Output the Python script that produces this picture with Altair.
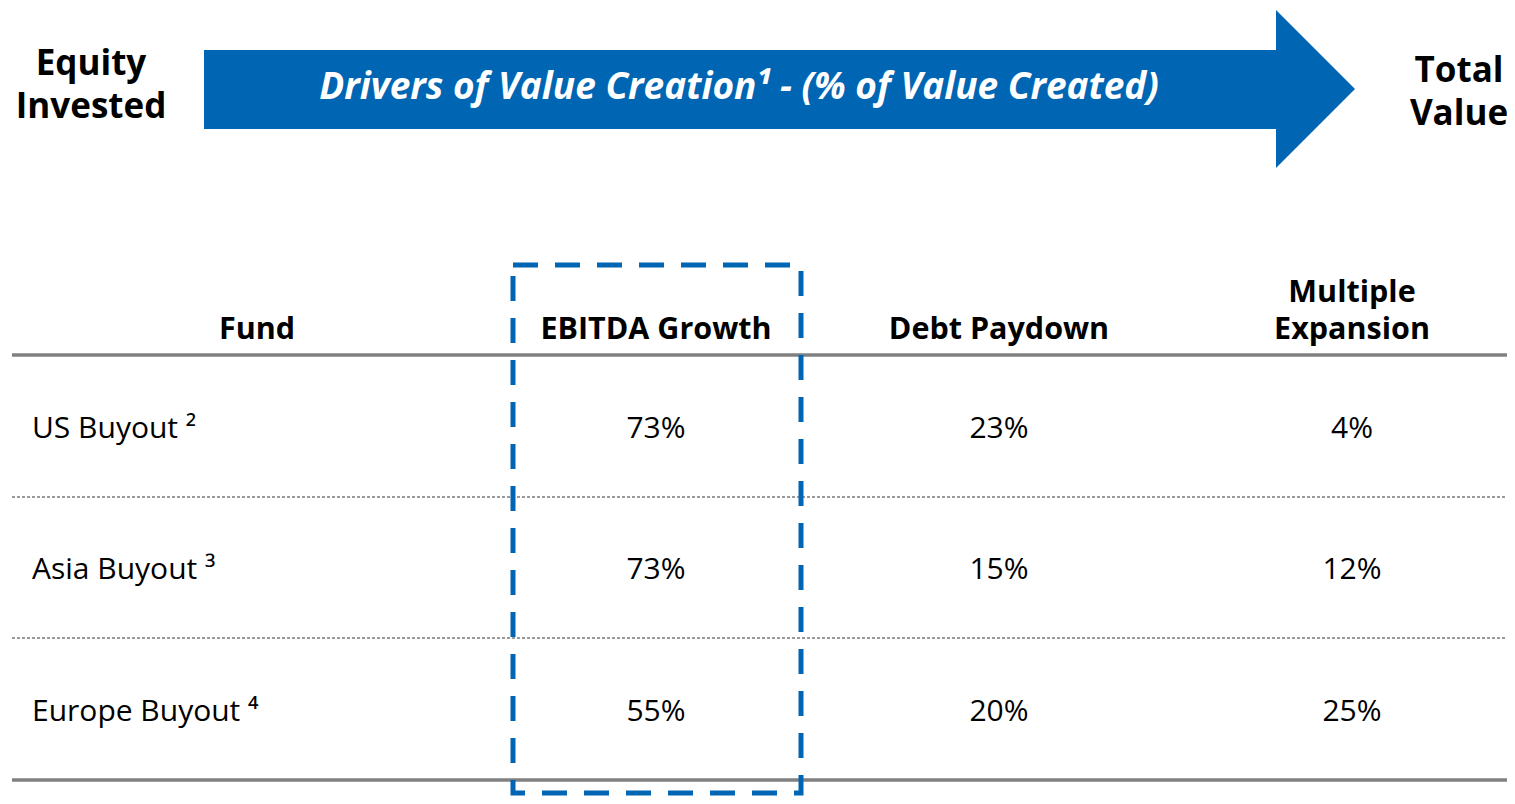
import altair as alt
import pandas as pd

# ---------------- data ----------------
funds = ["US Buyout", "Asia Buyout", "Europe Buyout"]
footnotes = ["²", "³", "⁴"]
ebitda_growth = [73, 73, 55]
debt_paydown = [23, 15, 20]
multiple_expansion = [4, 12, 25]
headers = ["Fund", "EBITDA Growth", "Debt Paydown", "Multiple\nExpansion"]
arrow_title = "Drivers of Value Creation¹ - (% of Value Created)"
left_label = "Equity\nInvested"
right_label = "Total\nValue"

# ---------------- layout (page pixels) ----------------
W, H = 1499, 788
XS = alt.Scale(domain=[8, 8 + W], nice=False, zero=False)
YS = alt.Scale(domain=[8, 8 + H], nice=False, zero=False, reverse=True)
BLUE = "#0066b3"
FONT = "Open Sans"

col_x = [32, 656, 999, 1352]
fund_head_x = 257
header_baseline = 339
header_lh = 37
row_baseline = [438, 579, 721]
thick_lines = [355, 780]
dotted_lines = [497, 638]
line_x0, line_x1 = 12, 1515

X_ = lambda: alt.X("x:Q", scale=XS, axis=None)
Y_ = lambda: alt.Y("y:Q", scale=YS, axis=None)

# arrow
arrow_body = alt.Chart(pd.DataFrame({"x": [204], "x2": [1276], "y": [50], "y2": [129]})).mark_rect(
    color=BLUE
).encode(x=X_(), x2="x2:Q", y=Y_(), y2="y2:Q")

arrow_head = alt.Chart(pd.DataFrame({"x": [1276, 1355], "y": [10, 89], "y2": [168, 89]})).mark_area(
    color=BLUE, opacity=1
).encode(x=X_(), y=Y_(), y2="y2:Q")

title_txt = alt.Chart(pd.DataFrame({"x": [739], "y": [99], "t": [arrow_title]})).mark_text(
    font=FONT, fontSize=37, fontWeight="bold", fontStyle="italic", color="white",
    align="center", baseline="alphabetic"
).encode(x=X_(), y=Y_(), text="t:N")

side_txt = alt.Chart(pd.DataFrame({"x": [91, 1459], "y": [75, 82], "t": [left_label, right_label]})).mark_text(
    font=FONT, fontSize=35, fontWeight="bold", color="black",
    align="center", baseline="alphabetic", lineBreak="\n", lineHeight=43
).encode(x=X_(), y=Y_(), text="t:N")

# table header (last line of each header sits on the common baseline)
head_df = pd.DataFrame({
    "x": [fund_head_x] + col_x[1:],
    "y": [header_baseline - (h.count("\n")) * header_lh for h in headers],
    "t": headers,
})
head_txt = alt.Chart(head_df).mark_text(
    font=FONT, fontSize=30.5, fontWeight="bold", color="black",
    align="center", baseline="alphabetic", lineBreak="\n", lineHeight=header_lh
).encode(x=X_(), y=Y_(), text="t:N")

# rows
fund_df = pd.DataFrame({
    "x": [col_x[0]] * len(funds),
    "y": row_baseline,
    "t": [f"{f} {n}" for f, n in zip(funds, footnotes)],
})
fund_txt = alt.Chart(fund_df).mark_text(
    font=FONT, fontSize=30, color="black", align="left", baseline="alphabetic"
).encode(x=X_(), y=Y_(), text="t:N")

vals = []
for i in range(len(funds)):
    for j, series in enumerate([ebitda_growth, debt_paydown, multiple_expansion]):
        vals.append({"x": col_x[j + 1], "y": row_baseline[i], "t": f"{series[i]}%"})
val_txt = alt.Chart(pd.DataFrame(vals)).mark_text(
    font=FONT, fontSize=30, color="black", align="center", baseline="alphabetic"
).encode(x=X_(), y=Y_(), text="t:N")

# separator lines
thick = alt.Chart(pd.DataFrame({"x": [line_x0] * 2, "x2": [line_x1] * 2, "y": thick_lines})).mark_rule(
    color="#808080", strokeWidth=3.5
).encode(x=X_(), x2="x2:Q", y=Y_())

dotted = alt.Chart(pd.DataFrame({"x": [line_x0] * 2, "x2": [line_x1] * 2, "y": dotted_lines})).mark_rule(
    color="#9a9a9a", strokeWidth=2, strokeDash=[3, 2]
).encode(x=X_(), x2="x2:Q", y=Y_())

# dashed highlight box around EBITDA Growth
box = alt.Chart(pd.DataFrame({"x": [513], "x2": [801], "y": [265], "y2": [793]})).mark_rect(
    fillOpacity=0, fill="white", stroke=BLUE, strokeWidth=5, strokeDash=[25, 17]
).encode(x=X_(), x2="x2:Q", y=Y_(), y2="y2:Q")

chart = alt.layer(
    arrow_body, arrow_head, title_txt, side_txt,
    thick, dotted, head_txt, fund_txt, val_txt, box,
).properties(
    width=W, height=H, padding=0, autosize=alt.AutoSizeParams(type="none")
).configure_view(stroke=None)

chart.save("out.html", embed_options={"renderer": "svg", "actions": False})
